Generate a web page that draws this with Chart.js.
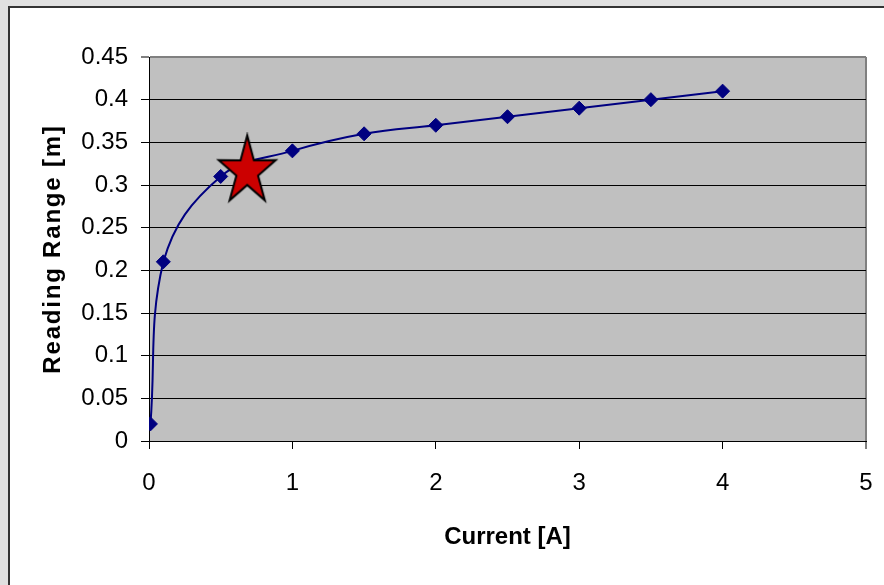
<!DOCTYPE html>
<html>
<head>
<meta charset="utf-8">
<script src="https://cdn.jsdelivr.net/npm/chart.js@4.4.1/dist/chart.umd.min.js"></script>
<style>
  html, body { margin: 0; padding: 0; width: 884px; height: 585px; overflow: hidden; background: #e0e0e0; }
  #frame { position: absolute; left: 8px; top: 6px; width: 1000px; height: 700px; border: 2px solid #333; background: #fff; }
  #c { position: absolute; left: 0; top: 0; }
</style>
</head>
<body>
<div id="frame"></div>
<canvas id="c" width="884" height="585"></canvas>
<script>
// ---- data ----
const currentA = [0.01, 0.1, 0.5, 1, 1.5, 2, 2.5, 3, 3.5, 4];
const readingRangeM = [0.02, 0.21, 0.31, 0.34, 0.36, 0.37, 0.38, 0.39, 0.40, 0.41];
const starPoint = [{ x: 0.685, y: 0.316 }];
const xTickLabels = ['0', '1', '2', '3', '4', '5'];
const yTickLabels = ['0', '0.05', '0.1', '0.15', '0.2', '0.25', '0.3', '0.35', '0.4', '0.45'];
const xTitle = 'Current [A]';
const yTitle = 'Reading Range [m]';

// ---- star marker image ----
function makeStar(rx, ry, ratio) {
  const pad = 3;
  const cv = document.createElement('canvas');
  cv.width = Math.ceil(2 * rx + 2 * pad);
  cv.height = Math.ceil(2 * ry + 2 * pad);
  const c = cv.getContext('2d');
  const cx = cv.width / 2, cy = cv.height / 2;
  c.beginPath();
  for (let i = 0; i < 10; i++) {
    const a = -Math.PI / 2 + i * Math.PI / 5;
    const f = (i % 2 === 0) ? 1 : ratio;
    const px = cx + Math.cos(a) * rx * f;
    const py = cy + Math.sin(a) * ry * f;
    if (i === 0) c.moveTo(px, py); else c.lineTo(px, py);
  }
  c.closePath();
  c.fillStyle = '#cc0000';
  c.fill();
  c.lineWidth = 2;
  c.lineJoin = 'miter';
  c.strokeStyle = '#000';
  c.stroke();
  return cv;
}
const starImg = makeStar(30, 36, 0.38);

const plotBg = {
  id: 'plotBg',
  beforeDraw(chart) {
    const { ctx, chartArea: a } = chart;
    ctx.save();
    ctx.fillStyle = '#c0c0c0';
    ctx.fillRect(a.left, a.top, a.right - a.left, a.bottom - a.top);
    ctx.restore();
  },
  afterLayout(chart) {
    const y = chart.scales.y;
    if (y && !y._lsPatched) {
      const orig = y.drawTitle;
      y.drawTitle = function () {
        const ctx = this.ctx;
        ctx.save();
        ctx.letterSpacing = '1.8px';
        orig.call(this);
        ctx.restore();
      };
      y._lsPatched = true;
    }
  }
};

const near = (a, b) => Math.abs(a - b) < 1e-6;

new Chart(document.getElementById('c'), {
  type: 'scatter',
  data: {
    datasets: [
      {
        data: starPoint,
        pointStyle: starImg,
        pointRadius: 30,
        showLine: false,
        order: 0
      },
      {
        data: currentA.map((x, i) => ({ x, y: readingRangeM[i] })),
        showLine: true,
        borderColor: '#000080',
        borderWidth: 2,
        tension: 0.4,
        pointStyle: 'rectRot',
        pointRadius: 7,
        pointBackgroundColor: '#000080',
        pointBorderColor: '#000080',
        pointBorderWidth: 1,
        order: 1
      }
    ]
  },
  options: {
    responsive: false,
    animation: false,
    devicePixelRatio: 1,
    layout: { autoPadding: false, padding: { left: 0, top: 57, right: 18, bottom: 0 } },
    plugins: { legend: { display: false }, tooltip: { enabled: false } },
    scales: {
      x: {
        type: 'linear',
        min: 0, max: 5,
        afterFit(s) { s.height = 144; s.paddingLeft = 0; s.paddingRight = 0; },
        ticks: {
          stepSize: 1,
          autoSkip: false,
          maxRotation: 0,
          padding: 20,
          color: '#000',
          font: { family: "'Liberation Sans', Arial, sans-serif", size: 24 },
          callback: (v, i) => xTickLabels[i]
        },
        grid: {
          drawOnChartArea: true,
          drawTicks: true,
          tickLength: 8,
          color: (c) => (c.tick && near(c.tick.value, 5)) ? '#808080' : 'rgba(0,0,0,0)',
          lineWidth: (c) => (c.tick && near(c.tick.value, 5)) ? 2 : 1,
          tickColor: '#000',
          tickWidth: 1
        },
        border: { display: true, color: '#000', width: 1 },
        title: {
          display: true,
          text: xTitle,
          color: '#000',
          font: { family: "'Liberation Sans', Arial, sans-serif", size: 24, weight: 'bold' },
          padding: { top: 0, bottom: 33 }
        }
      },
      y: {
        type: 'linear',
        min: 0, max: 0.45,
        afterFit(s) { s.width = 149; },
        ticks: {
          stepSize: 0.05,
          autoSkip: false,
          padding: 13,
          color: '#000',
          font: { family: "'Liberation Sans', Arial, sans-serif", size: 24 },
          callback: (v, i) => yTickLabels[i]
        },
        grid: {
          drawTicks: true,
          tickLength: 8,
          color: (c) => (c.tick && near(c.tick.value, 0.45)) ? '#808080' : '#000',
          lineWidth: (c) => (c.tick && near(c.tick.value, 0.45)) ? 2 : 1,
          tickColor: '#000',
          tickWidth: 1
        },
        border: { display: true, color: '#000', width: 1 },
        title: {
          display: true,
          text: yTitle,
          color: '#000',
          font: { family: "'Liberation Sans', Arial, sans-serif", size: 24, weight: 'bold' },
          padding: { top: 39, bottom: 0 }
        }
      }
    }
  },
  plugins: [plotBg]
});
</script>
</body>
</html>
